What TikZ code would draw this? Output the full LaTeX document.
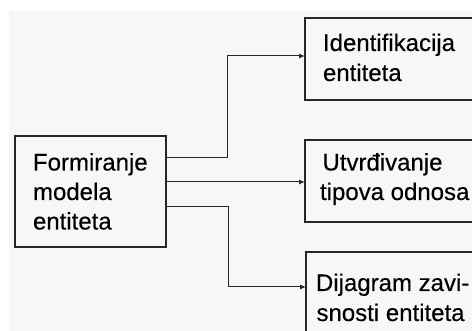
\documentclass[tikz,border=0pt]{standalone}
\usepackage{fontspec}
\setmainfont{Liberation Sans}
\newfontfamily\labelfont{Liberation Sans}[FakeBold=0.35]
\usetikzlibrary{arrows.meta,positioning}
\definecolor{paper}{HTML}{F7F7F7}
\definecolor{edge}{HTML}{262626}
\tikzset{
  box/.style={draw=edge, line width=1.2pt, fill=paper, anchor=north west,
    minimum width=#1, inner sep=0pt, outer sep=0pt},
  label/.style={anchor=base west, inner sep=0pt, outer sep=0pt,
    font=\labelfont\fontsize{24}{29}\selectfont, text=black},
  conn/.style={draw=edge, line width=1pt, -{Latex[length=6pt,width=5pt]}},
}
\begin{document}
\begin{tikzpicture}[x=1pt,y=1pt]
  \useasboundingbox (0,0) rectangle (472,-331);
  \clip (0,0) rectangle (472,-331);
  % page background
  \fill[paper] (9,-11) rectangle (472,-331);

  % boxes
  \node[box=151pt, minimum height=111pt] (L)  at (15,-136) {};
  \node[box=180pt, minimum height=82pt]  (B1) at (305,-18) {};
  \node[box=180pt, minimum height=82pt]  (B2) at (305,-140) {};
  \node[box=180pt, minimum height=100pt] (B3) at (306,-252) {};

  % texts
  \node[label] (la) at (33,-170.5) {Formiranje};
  \node[label] (lb) at (33,-200)   {modela};
  \node[label] (lc) at (33,-229.5) {entiteta};
  \node[label] (ia) at (323,-51)   {Identifikacija};
  \node[label] (ib) at (323,-81)   {entiteta};
  \node[label] (ua) at (322.5,-170.5) {Utvrđivanje};
  \node[label] (ub) at (320,-200)  {tipova odnosa};
  \node[label] (da) at (316,-291)  {Dijagram zavi-};
  \node[label] (db) at (316.5,-321) {snosti entiteta};

  % connectors
  \coordinate (k1) at (227,-56);
  \coordinate (k3) at (228,-287);
  \draw[conn] ([yshift=33.5pt]L.east) -| (k1) -- (k1 -| B1.west);
  \draw[conn] ([yshift=9.5pt]L.east) -- ([yshift=9.5pt]L.east -| B2.west);
  \draw[conn] ([yshift=-15.5pt]L.east) -| (k3) -- (k3 -| B3.west);
\end{tikzpicture}
\end{document}
